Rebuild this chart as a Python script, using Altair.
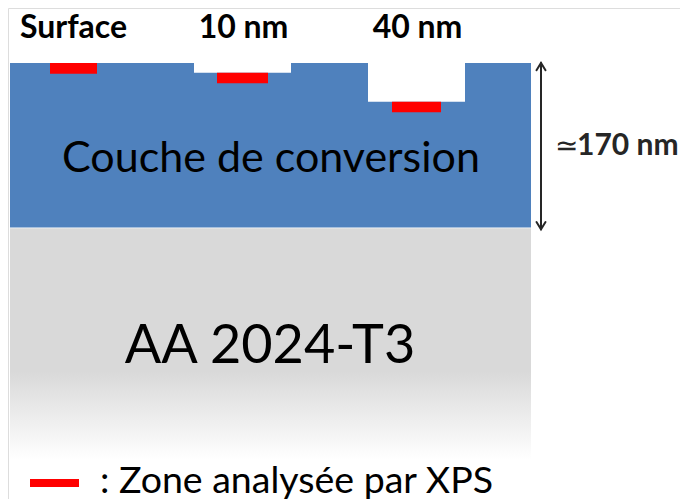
import altair as alt
import pandas as pd

# ---- schematic data -------------------------------------------------------
# vertical axis: depth below the original surface, in nm
layer_thickness_nm = 170
substrate_bottom_nm = 410
probe_labels = ["Surface", "10 nm", "40 nm"]
probe_depths_nm = [0, 10, 40]
spot_thickness_nm = 11
# horizontal layout (schematic units)
sample_left, sample_right = 10, 531
probe_centers = [73.5, 242.5, 416.5]
spot_widths = [47, 51, 49]
crater_widths = [0, 97, 97]
label_centers = [73.5, 243.5, 417.5]
layer_label = "Couche de conversion"
substrate_label = "AA 2024-T3"
approx_symbol = "≃"
thickness_label = "170 nm"
legend_label = ": Zone analysée par XPS"
arrow_x = 541

# ---- scales ---------------------------------------------------------------
W, H = 672, 491
PX_PER_NM = 0.967
D_MIN = -55 / PX_PER_NM
D_MAX = D_MIN + H / PX_PER_NM
xs = alt.Scale(domain=[8, 8 + W])
ys = alt.Scale(domain=[D_MIN, D_MAX], reverse=True)


def X(f):
    return alt.X(f, type="quantitative", scale=xs, axis=None)


def Y(f):
    return alt.Y(f, type="quantitative", scale=ys, axis=None)


FONT = "Lato"
BLUE = "#4f81bd"
RED = "#ff0000"
INK = "#262626"

layer_df = pd.DataFrame({"x": [sample_left], "x2": [sample_right],
                         "y": [0], "y2": [layer_thickness_nm]})
blue = alt.Chart(layer_df).mark_rect(color=BLUE).encode(
    x=X("x"), x2="x2", y=Y("y"), y2="y2")

sub_df = pd.DataFrame({"x": [sample_left], "x2": [sample_right],
                       "y": [layer_thickness_nm + 1], "y2": [substrate_bottom_nm]})
grad = alt.LinearGradient(
    gradient="linear",
    stops=[alt.GradientStop(color="#d9d9d9", offset=0),
           alt.GradientStop(color="#d9d9d9", offset=0.62),
           alt.GradientStop(color="#ffffff", offset=1)],
    x1=0, x2=0, y1=0, y2=1)
gray = alt.Chart(sub_df).mark_rect(color=grad).encode(
    x=X("x"), x2="x2", y=Y("y"), y2="y2")

crater_rows = []
for c, w, d in zip(probe_centers, crater_widths, probe_depths_nm):
    if w > 0:
        crater_rows.append({"x": c - w / 2, "x2": c + w / 2, "y": -3, "y2": d})
craters = alt.Chart(pd.DataFrame(crater_rows)).mark_rect(color="white").encode(
    x=X("x"), x2="x2", y=Y("y"), y2="y2")

spot_rows = []
for c, w, d in zip(probe_centers, spot_widths, probe_depths_nm):
    spot_rows.append({"x": c - w / 2, "x2": c + w / 2, "y": d,
                      "y2": d + spot_thickness_nm})
spots = alt.Chart(pd.DataFrame(spot_rows)).mark_rect(color=RED).encode(
    x=X("x"), x2="x2", y=Y("y"), y2="y2")

# double-headed arrow showing the layer thickness
head_w, head_h = 4.5, 7.5
arrow_top, arrow_bot = 0, layer_thickness_nm + 2
arrow_rows = [
    {"x": arrow_x, "y": arrow_top, "s": "shaft", "o": 0},
    {"x": arrow_x, "y": arrow_bot, "s": "shaft", "o": 1},
    {"x": arrow_x - head_w, "y": arrow_top + head_h, "s": "top", "o": 0},
    {"x": arrow_x, "y": arrow_top, "s": "top", "o": 1},
    {"x": arrow_x + head_w, "y": arrow_top + head_h, "s": "top", "o": 2},
    {"x": arrow_x - head_w, "y": arrow_bot - head_h, "s": "bot", "o": 0},
    {"x": arrow_x, "y": arrow_bot, "s": "bot", "o": 1},
    {"x": arrow_x + head_w, "y": arrow_bot - head_h, "s": "bot", "o": 2},
]
arrow = alt.Chart(pd.DataFrame(arrow_rows)).mark_line(
    color=INK, strokeWidth=2, strokeCap="round", strokeJoin="miter").encode(
    x=X("x"), y=Y("y"), detail="s:N", order="o:Q")

top_df = pd.DataFrame({"x": label_centers, "y": [-26.2] * 3, "t": probe_labels})
top_text = alt.Chart(top_df).mark_text(
    font=FONT, fontSize=32, fontWeight="bold", color="black",
    align="center", baseline="alphabetic").encode(x=X("x"), y=Y("y"), text="t:N")

layer_text = alt.Chart(pd.DataFrame({"x": [271], "y": [112.4], "t": [layer_label]})).mark_text(
    font=FONT, fontSize=43, color="black", align="center",
    baseline="alphabetic").encode(x=X("x"), y=Y("y"), text="t:N")

sub_text = alt.Chart(pd.DataFrame({"x": [270], "y": [310.5], "t": [substrate_label]})).mark_text(
    font=FONT, fontSize=54, color="black", align="center",
    baseline="alphabetic").encode(x=X("x"), y=Y("y"), text="t:N")

approx_text = alt.Chart(pd.DataFrame({"x": [555], "y": [95.1], "t": [approx_symbol]})).mark_text(
    font=FONT, fontSize=28, color=INK, align="left",
    baseline="alphabetic").encode(x=X("x"), y=Y("y"), text="t:N")

thick_text = alt.Chart(pd.DataFrame({"x": [577], "y": [95.1], "t": [thickness_label]})).mark_text(
    font=FONT, fontSize=30, fontWeight="bold", color=INK, align="left",
    baseline="alphabetic").encode(x=X("x"), y=Y("y"), text="t:N")

leg_spot = alt.Chart(pd.DataFrame({"x": [30], "x2": [79], "y": [430.2], "y2": [438.5]})).mark_rect(
    color=RED).encode(x=X("x"), x2="x2", y=Y("y"), y2="y2")

leg_text = alt.Chart(pd.DataFrame({"x": [100], "y": [444.7], "t": [legend_label]})).mark_text(
    font=FONT, fontSize=37.5, color="black", align="left",
    baseline="alphabetic").encode(x=X("x"), y=Y("y"), text="t:N")

chart = alt.layer(
    blue, gray, craters, spots, arrow, top_text, layer_text, sub_text,
    approx_text, thick_text, leg_spot, leg_text
).properties(
    width=W, height=H, padding=0, autosize=alt.AutoSizeParams(type="none")
).configure_view(stroke="transparent", strokeWidth=0).configure(background="white")

chart.save("out.html", embed_options={"renderer": "svg", "actions": False})
